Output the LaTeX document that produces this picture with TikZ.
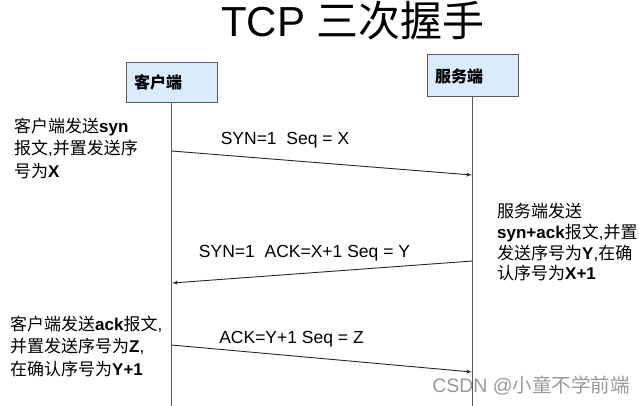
\documentclass[tikz,border=0pt]{standalone}
\usepackage{fontspec}
\setmainfont{Liberation Sans}
\newfontfamily\cjk{Noto Sans CJK SC}
\newcommand{\zh}[1]{{\cjk #1}}
\usetikzlibrary{shapes,arrows}
\definecolor{boxblue}{HTML}{DAEBFC}
\definecolor{edgegray}{HTML}{595959}
\tikzstyle{actor} = [rectangle, draw=edgegray, fill=boxblue, line width=1pt,
    minimum width=91pt, minimum height=40pt, text width=75pt, align=left,
    font=\cjk\bfseries\fontsize{16}{18}\selectfont]
\tikzstyle{lifeline} = [draw=edgegray, line width=1.3pt]
\tikzstyle{line} = [draw=black!85, -latex', line width=0.9pt]
\tikzstyle{msg} = [inner sep=0pt, font=\fontsize{17.5}{20}\selectfont]
\tikzstyle{note} = [align=left, inner sep=0pt, anchor=north west,
    font=\fontsize{17}{22.3}\selectfont]

\begin{document}
\begin{tikzpicture}[x=1pt, y=-1pt]
    \useasboundingbox (0,0) rectangle (639,406);
    % Place nodes
    \node [font=\fontsize{42}{46}\selectfont] (title) at (353,21) {TCP \zh{三次握手}};
    \node [actor] (client) at (171.5,82.5) {客户端};
    \node [actor, minimum height=42pt] (server) at (472.5,76) {服务端};
    \coordinate (client-end) at (171.5,406);
    \coordinate (server-end) at (472.5,406);
    % points on the lifelines
    \coordinate (c1) at (171.5,151);
    \coordinate (s1) at (472,175);
    \coordinate (s2) at (472.5,261);
    \coordinate (c2) at (172,283);
    \coordinate (c3) at (171.5,345);
    \coordinate (s3) at (472,372);
    % messages
    \node [msg] (syn) at (285,140) {SYN=1\ \ Seq = X};
    \node [msg] (synack) at (304.5,253) {SYN=1\ \ ACK=X+1 Seq = Y};
    \node [msg] (ack) at (291.5,339) {ACK=Y+1 Seq = Z};
    % notes
    \node [note] (note1) at (14,118) {\zh{客户端发送}\textbf{syn}\\
        \zh{报文},\zh{并置发送序}\\ \zh{号为}\textbf{X}};
    \node [note, font=\fontsize{17}{20.8}\selectfont] (note2) at (497,203)
        {\zh{服务端发送}\\
        \textbf{syn+ack}\zh{报文},\zh{并置}\\
        \zh{发送序号为}\textbf{Y},\zh{在确}\\ \zh{认序号为}\textbf{X+1}};
    \node [note] (note3) at (10,316) {\zh{客户端发送}\textbf{ack}\zh{报文},\\
        \zh{并置发送序号为}\textbf{Z},\\ \zh{在确认序号为}\textbf{Y+1}};
    \node [text=black!40, font=\fontsize{19.5}{22}\selectfont] (mark) at (531,386)
        {CSDN @\zh{小童不学前端}};
    % Draw edges
    \path [lifeline] (client) -- (client-end);
    \path [lifeline] (server) -- (server-end);
    \path [line] (c1) -- (s1);
    \path [line] (s2) -- (c2);
    \path [line] (c3) -- (s3);
\end{tikzpicture}
\end{document}
